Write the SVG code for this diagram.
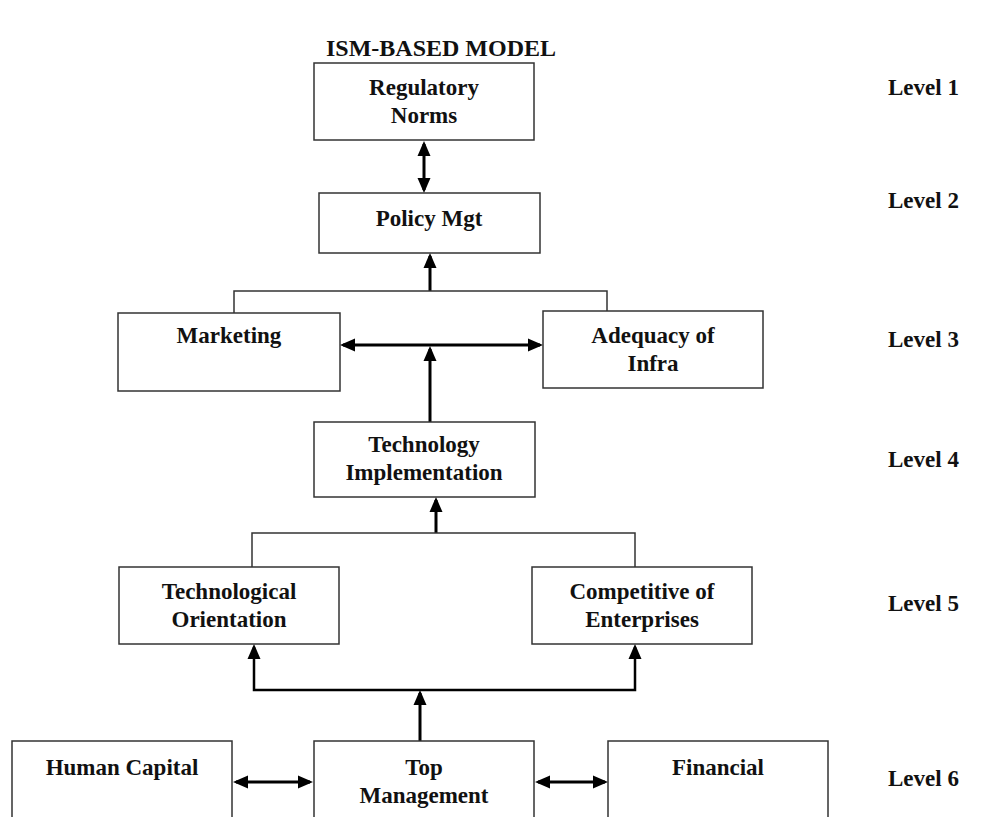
<svg xmlns="http://www.w3.org/2000/svg" width="989" height="817" viewBox="0 0 989 817">
<style>
  .box { fill: #ffffff; stroke: #333333; stroke-width: 1.5; }
  .t { font-family: "Liberation Serif", "Times New Roman", serif; font-weight: bold; font-size: 23px; fill: #111111; text-anchor: middle; }
  .lvl { font-family: "Liberation Serif", "Times New Roman", serif; font-weight: bold; font-size: 23px; fill: #111111; }
  .title { font-family: "Liberation Serif", "Times New Roman", serif; font-weight: bold; font-size: 24px; fill: #111111; text-anchor: middle; }
  .arr { stroke: #000000; stroke-width: 3; fill: none; }
  .thin { stroke: #333333; stroke-width: 1.5; fill: none; }
</style>
<defs>
  <marker id="ah" markerUnits="userSpaceOnUse" markerWidth="16" markerHeight="14" refX="12" refY="7" orient="auto-start-reverse">
    <path d="M0,0.5 L15,7 L0,13.5 z" fill="#000000"/>
  </marker>
</defs>
<rect x="0" y="0" width="989" height="817" fill="#ffffff"/>
<text class="title" x="441" y="56">ISM-BASED MODEL</text>

<g id="connectors">
  <line class="arr" x1="424" y1="144" x2="424" y2="190" marker-start="url(#ah)" marker-end="url(#ah)"/>
  <line class="arr" x1="430" y1="291" x2="430" y2="256" marker-end="url(#ah)"/>
  <polyline class="thin" points="234,313 234,291 607,291 607,311"/>
  <line class="arr" x1="343" y1="345" x2="540" y2="345" marker-start="url(#ah)" marker-end="url(#ah)"/>
  <line class="arr" x1="430" y1="422" x2="430" y2="349" marker-end="url(#ah)"/>
  <line class="arr" x1="436" y1="533" x2="436" y2="500" marker-end="url(#ah)"/>
  <polyline class="thin" points="252,567 252,533 635,533 635,567"/>
  <polyline class="arr" style="stroke-width:2.5" points="254,647 254,690 635,690 635,647" marker-start="url(#ah)" marker-end="url(#ah)"/>
  <line class="arr" x1="420" y1="741" x2="420" y2="693" marker-end="url(#ah)"/>
  <line class="arr" x1="236" y1="782" x2="310" y2="782" marker-start="url(#ah)" marker-end="url(#ah)"/>
  <line class="arr" x1="538" y1="782" x2="605" y2="782" marker-start="url(#ah)" marker-end="url(#ah)"/>
</g>

<g id="regulatory-norms">
  <rect class="box" x="314" y="63" width="220" height="77"/>
  <text class="t" x="424" y="95">Regulatory</text>
  <text class="t" x="424" y="123">Norms</text>
</g>
<g id="policy-mgt">
  <rect class="box" x="319" y="193" width="221" height="60"/>
  <text class="t" x="429" y="226">Policy Mgt</text>
</g>
<g id="marketing">
  <rect class="box" x="118" y="313" width="222" height="78"/>
  <text class="t" x="229" y="343">Marketing</text>
</g>
<g id="adequacy-of-infra">
  <rect class="box" x="543" y="311" width="220" height="77"/>
  <text class="t" x="653" y="343">Adequacy of</text>
  <text class="t" x="653" y="371">Infra</text>
</g>
<g id="technology-implementation">
  <rect class="box" x="314" y="422" width="221" height="75"/>
  <text class="t" x="424" y="452">Technology</text>
  <text class="t" x="424" y="480">Implementation</text>
</g>
<g id="technological-orientation">
  <rect class="box" x="119" y="567" width="220" height="77"/>
  <text class="t" x="229" y="599">Technological</text>
  <text class="t" x="229" y="627">Orientation</text>
</g>
<g id="competitive-of-enterprises">
  <rect class="box" x="532" y="567" width="220" height="77"/>
  <text class="t" x="642" y="599">Competitive of</text>
  <text class="t" x="642" y="627">Enterprises</text>
</g>
<g id="human-capital">
  <rect class="box" x="12" y="741" width="220" height="100"/>
  <text class="t" x="122" y="775">Human Capital</text>
</g>
<g id="top-management">
  <rect class="box" x="314" y="741" width="220" height="100"/>
  <text class="t" x="424" y="775">Top</text>
  <text class="t" x="424" y="803">Management</text>
</g>
<g id="financial">
  <rect class="box" x="608" y="741" width="220" height="100"/>
  <text class="t" x="718" y="775">Financial</text>
</g>

<g id="levels">
  <text class="lvl" x="888" y="95">Level 1</text>
  <text class="lvl" x="888" y="208">Level 2</text>
  <text class="lvl" x="888" y="347">Level 3</text>
  <text class="lvl" x="888" y="467">Level 4</text>
  <text class="lvl" x="888" y="611">Level 5</text>
  <text class="lvl" x="888" y="786">Level 6</text>
</g>
</svg>
